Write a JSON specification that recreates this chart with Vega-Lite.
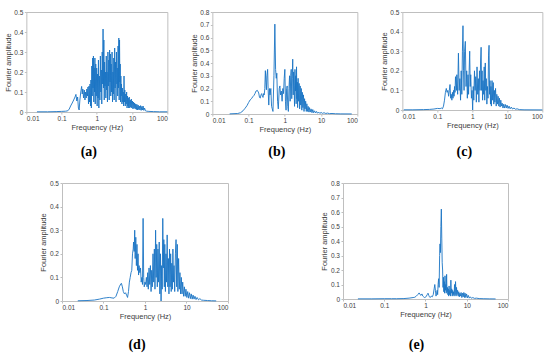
{
  "$schema": "https://vega.github.io/schema/vega-lite/v6.json",
  "padding": {"left": 3, "top": 8, "right": 0, "bottom": 0},
  "background": "white",
  "config": {
    "view": {"stroke": "#bfbfbf", "strokeWidth": 1},
    "axis": {"labelFont": "Liberation Sans", "labelFontSize": 6.5, "labelColor": "#404040", "titleFont": "Liberation Sans", "titleFontSize": 7.5, "titleFontWeight": "normal", "titleColor": "#404040", "grid": false, "domain": false, "ticks": true, "tickSize": 2, "tickColor": "#bfbfbf", "labelPadding": 1.5, "titlePadding": 1.5},
    "line": {"color": "#1a74c4", "strokeWidth": 0.9, "clip": true}
  },
  "datasets": {
    "a": [
      {"f":0.02,"v":0.001},{"f":0.04,"v":0.001},{"f":0.07,"v":0.002},{"f":0.1,"v":0.003},{"f":0.13,"v":0.004},{"f":0.15,"v":0.006},{"f":0.165,"v":0.015},{"f":0.18,"v":0.03},{"f":0.2,"v":0.045},{"f":0.22,"v":0.06},{"f":0.24,"v":0.075},{"f":0.255,"v":0.088},{"f":0.27,"v":0.055},{"f":0.285,"v":0.075},{"f":0.3,"v":0.02},{"f":0.315,"v":0.01},{"f":0.33,"v":0.06},{"f":0.35,"v":0.1},{"f":0.37,"v":0.128},{"f":0.385,"v":0.09},{"f":0.4,"v":0.115},{"f":0.42,"v":0.07},{"f":0.44,"v":0.11},{"f":0.46,"v":0.06},{"f":0.48,"v":0.1},{"f":0.5,"v":0.07},{"f":0.52,"v":0.115},{"f":0.54,"v":0.08},{"f":0.56,"v":0.125},{"f":0.58,"v":0.04},{"f":0.6,"v":0.13},{"f":0.62,"v":0.05},{"f":0.64,"v":0.14},{"f":0.66,"v":0.03},{"f":0.68,"v":0.16},{"f":0.7,"v":0.02},{"f":0.72,"v":0.23},{"f":0.74,"v":0.08},{"f":0.76,"v":0.27},{"f":0.78,"v":0.12},{"f":0.8,"v":0.28},{"f":0.82,"v":0.05},{"f":0.84,"v":0.22},{"f":0.86,"v":0.1},{"f":0.88,"v":0.27},{"f":0.9,"v":0.04},{"f":0.93,"v":0.24},{"f":0.96,"v":0.08},{"f":0.99,"v":0.22},{"f":1.02,"v":0.03},{"f":1.05,"v":0.19},{"f":1.08,"v":0.07},{"f":1.11,"v":0.26},{"f":1.14,"v":0.02},{"f":1.18,"v":0.18},{"f":1.22,"v":0.06},{"f":1.26,"v":0.28},{"f":1.3,"v":0.1},{"f":1.34,"v":0.21},{"f":1.38,"v":0.04},{"f":1.42,"v":0.3},{"f":1.46,"v":0.14},{"f":1.5,"v":0.415},{"f":1.54,"v":0.12},{"f":1.58,"v":0.36},{"f":1.62,"v":0.06},{"f":1.66,"v":0.25},{"f":1.7,"v":0.13},{"f":1.75,"v":0.2},{"f":1.8,"v":0.07},{"f":1.85,"v":0.28},{"f":1.9,"v":0.11},{"f":1.95,"v":0.2},{"f":2.0,"v":0.05},{"f":2.06,"v":0.3},{"f":2.12,"v":0.13},{"f":2.18,"v":0.26},{"f":2.24,"v":0.06},{"f":2.3,"v":0.31},{"f":2.36,"v":0.15},{"f":2.42,"v":0.29},{"f":2.48,"v":0.08},{"f":2.55,"v":0.24},{"f":2.62,"v":0.1},{"f":2.7,"v":0.3},{"f":2.78,"v":0.05},{"f":2.86,"v":0.2},{"f":2.94,"v":0.09},{"f":3.02,"v":0.27},{"f":3.1,"v":0.06},{"f":3.2,"v":0.32},{"f":3.3,"v":0.12},{"f":3.4,"v":0.25},{"f":3.5,"v":0.05},{"f":3.6,"v":0.3},{"f":3.7,"v":0.14},{"f":3.8,"v":0.22},{"f":3.9,"v":0.08},{"f":4.0,"v":0.33},{"f":4.1,"v":0.12},{"f":4.2,"v":0.37},{"f":4.3,"v":0.06},{"f":4.4,"v":0.36},{"f":4.5,"v":0.15},{"f":4.6,"v":0.24},{"f":4.7,"v":0.05},{"f":4.8,"v":0.18},{"f":4.9,"v":0.08},{"f":5.0,"v":0.14},{"f":5.15,"v":0.04},{"f":5.3,"v":0.12},{"f":5.45,"v":0.05},{"f":5.6,"v":0.1},{"f":5.75,"v":0.03},{"f":5.9,"v":0.18},{"f":6.05,"v":0.05},{"f":6.2,"v":0.11},{"f":6.4,"v":0.03},{"f":6.6,"v":0.09},{"f":6.8,"v":0.04},{"f":7.0,"v":0.1},{"f":7.2,"v":0.02},{"f":7.4,"v":0.08},{"f":7.6,"v":0.03},{"f":7.8,"v":0.07},{"f":8.0,"v":0.02},{"f":8.3,"v":0.075},{"f":8.6,"v":0.02},{"f":8.9,"v":0.06},{"f":9.2,"v":0.025},{"f":9.5,"v":0.065},{"f":9.8,"v":0.02},{"f":10.2,"v":0.055},{"f":10.6,"v":0.015},{"f":11.0,"v":0.05},{"f":11.4,"v":0.02},{"f":11.8,"v":0.045},{"f":12.2,"v":0.015},{"f":12.7,"v":0.04},{"f":13.2,"v":0.012},{"f":13.7,"v":0.038},{"f":14.2,"v":0.01},{"f":14.8,"v":0.035},{"f":15.4,"v":0.012},{"f":16.0,"v":0.03},{"f":16.7,"v":0.01},{"f":17.4,"v":0.032},{"f":18.1,"v":0.008},{"f":18.9,"v":0.028},{"f":19.7,"v":0.01},{"f":20.5,"v":0.03},{"f":21.5,"v":0.008},{"f":22.5,"v":0.02},{"f":24,"v":0.006},{"f":26,"v":0.004},{"f":30,"v":0.003},{"f":40,"v":0.002},{"f":60,"v":0.001},{"f":100,"v":0.001}
    ],
    "b": [
      {"f":0.03,"v":0.001},{"f":0.05,"v":0.004},{"f":0.06,"v":0.01},{"f":0.07,"v":0.025},{"f":0.08,"v":0.045},{"f":0.09,"v":0.065},{"f":0.1,"v":0.09},{"f":0.11,"v":0.11},{"f":0.12,"v":0.12},{"f":0.13,"v":0.135},{"f":0.14,"v":0.145},{"f":0.15,"v":0.16},{"f":0.16,"v":0.18},{"f":0.175,"v":0.185},{"f":0.19,"v":0.165},{"f":0.2,"v":0.13},{"f":0.21,"v":0.125},{"f":0.22,"v":0.15},{"f":0.23,"v":0.16},{"f":0.24,"v":0.14},{"f":0.25,"v":0.13},{"f":0.26,"v":0.16},{"f":0.27,"v":0.15},{"f":0.28,"v":0.2},{"f":0.29,"v":0.34},{"f":0.3,"v":0.25},{"f":0.31,"v":0.19},{"f":0.32,"v":0.3},{"f":0.335,"v":0.35},{"f":0.345,"v":0.2},{"f":0.36,"v":0.07},{"f":0.375,"v":0.2},{"f":0.39,"v":0.15},{"f":0.41,"v":0.2},{"f":0.43,"v":0.06},{"f":0.45,"v":0.04},{"f":0.47,"v":0.02},{"f":0.5,"v":0.3},{"f":0.53,"v":0.705},{"f":0.555,"v":0.35},{"f":0.58,"v":0.28},{"f":0.6,"v":0.32},{"f":0.63,"v":0.1},{"f":0.66,"v":0.04},{"f":0.7,"v":0.2},{"f":0.73,"v":0.22},{"f":0.76,"v":0.15},{"f":0.8,"v":0.18},{"f":0.84,"v":0.1},{"f":0.88,"v":0.2},{"f":0.92,"v":0.16},{"f":0.96,"v":0.28},{"f":1.0,"v":0.35},{"f":1.04,"v":0.1},{"f":1.08,"v":0.03},{"f":1.12,"v":0.2},{"f":1.16,"v":0.22},{"f":1.2,"v":0.06},{"f":1.25,"v":0.02},{"f":1.3,"v":0.2},{"f":1.35,"v":0.3},{"f":1.4,"v":0.1},{"f":1.45,"v":0.3},{"f":1.5,"v":0.35},{"f":1.55,"v":0.12},{"f":1.6,"v":0.28},{"f":1.65,"v":0.43},{"f":1.7,"v":0.15},{"f":1.75,"v":0.33},{"f":1.8,"v":0.22},{"f":1.85,"v":0.06},{"f":1.9,"v":0.35},{"f":1.95,"v":0.18},{"f":2.0,"v":0.3},{"f":2.05,"v":0.08},{"f":2.1,"v":0.37},{"f":2.15,"v":0.12},{"f":2.2,"v":0.25},{"f":2.25,"v":0.05},{"f":2.32,"v":0.28},{"f":2.4,"v":0.1},{"f":2.48,"v":0.24},{"f":2.56,"v":0.04},{"f":2.65,"v":0.22},{"f":2.74,"v":0.07},{"f":2.84,"v":0.2},{"f":2.94,"v":0.03},{"f":3.04,"v":0.17},{"f":3.15,"v":0.05},{"f":3.26,"v":0.15},{"f":3.38,"v":0.02},{"f":3.5,"v":0.12},{"f":3.62,"v":0.04},{"f":3.75,"v":0.1},{"f":3.9,"v":0.02},{"f":4.05,"v":0.08},{"f":4.2,"v":0.02},{"f":4.4,"v":0.06},{"f":4.6,"v":0.015},{"f":4.8,"v":0.05},{"f":5.0,"v":0.015},{"f":5.3,"v":0.04},{"f":5.6,"v":0.01},{"f":5.9,"v":0.035},{"f":6.2,"v":0.01},{"f":6.6,"v":0.025},{"f":7.0,"v":0.008},{"f":7.5,"v":0.02},{"f":8.0,"v":0.006},{"f":8.6,"v":0.015},{"f":9.2,"v":0.005},{"f":10,"v":0.012},{"f":11,"v":0.005},{"f":12,"v":0.01},{"f":13.5,"v":0.004},{"f":15,"v":0.007},{"f":17,"v":0.003},{"f":20,"v":0.004},{"f":25,"v":0.002},{"f":35,"v":0.001},{"f":70,"v":0.0005}
    ],
    "c": [
      {"f":0.011,"v":0.001},{"f":0.02,"v":0.001},{"f":0.04,"v":0.002},{"f":0.06,"v":0.003},{"f":0.08,"v":0.005},{"f":0.1,"v":0.008},{"f":0.12,"v":0.007},{"f":0.13,"v":0.01},{"f":0.14,"v":0.006},{"f":0.15,"v":0.02},{"f":0.16,"v":0.05},{"f":0.17,"v":0.09},{"f":0.18,"v":0.11},{"f":0.19,"v":0.09},{"f":0.2,"v":0.1},{"f":0.21,"v":0.07},{"f":0.22,"v":0.1},{"f":0.23,"v":0.13},{"f":0.24,"v":0.06},{"f":0.25,"v":0.08},{"f":0.26,"v":0.05},{"f":0.27,"v":0.09},{"f":0.28,"v":0.06},{"f":0.29,"v":0.1},{"f":0.3,"v":0.07},{"f":0.31,"v":0.12},{"f":0.32,"v":0.09},{"f":0.33,"v":0.17},{"f":0.35,"v":0.1},{"f":0.36,"v":0.18},{"f":0.38,"v":0.08},{"f":0.4,"v":0.29},{"f":0.42,"v":0.1},{"f":0.44,"v":0.16},{"f":0.46,"v":0.05},{"f":0.48,"v":0.2},{"f":0.5,"v":0.08},{"f":0.52,"v":0.3},{"f":0.54,"v":0.43},{"f":0.56,"v":0.2},{"f":0.58,"v":0.1},{"f":0.6,"v":0.3},{"f":0.63,"v":0.35},{"f":0.66,"v":0.12},{"f":0.69,"v":0.2},{"f":0.72,"v":0.06},{"f":0.75,"v":0.18},{"f":0.78,"v":0.08},{"f":0.81,"v":0.2},{"f":0.84,"v":0.3},{"f":0.87,"v":0.12},{"f":0.9,"v":0.18},{"f":0.94,"v":0.06},{"f":0.98,"v":0.1},{"f":1.02,"v":0.0},{"f":1.06,"v":0.12},{"f":1.1,"v":0.05},{"f":1.15,"v":0.2},{"f":1.2,"v":0.1},{"f":1.25,"v":0.17},{"f":1.3,"v":0.04},{"f":1.36,"v":0.22},{"f":1.42,"v":0.08},{"f":1.48,"v":0.16},{"f":1.54,"v":0.04},{"f":1.6,"v":0.2},{"f":1.66,"v":0.1},{"f":1.72,"v":0.25},{"f":1.78,"v":0.32},{"f":1.84,"v":0.1},{"f":1.9,"v":0.2},{"f":1.96,"v":0.05},{"f":2.02,"v":0.15},{"f":2.1,"v":0.08},{"f":2.18,"v":0.22},{"f":2.26,"v":0.05},{"f":2.34,"v":0.24},{"f":2.42,"v":0.1},{"f":2.5,"v":0.16},{"f":2.6,"v":0.03},{"f":2.7,"v":0.12},{"f":2.8,"v":0.06},{"f":2.9,"v":0.28},{"f":3.0,"v":0.33},{"f":3.1,"v":0.08},{"f":3.2,"v":0.15},{"f":3.3,"v":0.03},{"f":3.4,"v":0.12},{"f":3.5,"v":0.02},{"f":3.65,"v":0.15},{"f":3.8,"v":0.05},{"f":3.95,"v":0.14},{"f":4.1,"v":0.03},{"f":4.25,"v":0.1},{"f":4.4,"v":0.04},{"f":4.6,"v":0.11},{"f":4.8,"v":0.02},{"f":5.0,"v":0.08},{"f":5.2,"v":0.03},{"f":5.45,"v":0.07},{"f":5.7,"v":0.02},{"f":5.95,"v":0.06},{"f":6.2,"v":0.015},{"f":6.5,"v":0.05},{"f":6.8,"v":0.02},{"f":7.1,"v":0.035},{"f":7.5,"v":0.01},{"f":7.9,"v":0.03},{"f":8.3,"v":0.01},{"f":8.8,"v":0.028},{"f":9.3,"v":0.01},{"f":9.8,"v":0.025},{"f":10.5,"v":0.008},{"f":11.2,"v":0.02},{"f":12,"v":0.006},{"f":13,"v":0.015},{"f":14,"v":0.005},{"f":15.5,"v":0.01},{"f":17,"v":0.004},{"f":19,"v":0.006},{"f":22,"v":0.002},{"f":30,"v":0.001},{"f":100,"v":0.0005}
    ],
    "d": [
      {"f":0.024,"v":0.001},{"f":0.04,"v":0.002},{"f":0.06,"v":0.004},{"f":0.08,"v":0.008},{"f":0.1,"v":0.012},{"f":0.12,"v":0.014},{"f":0.14,"v":0.015},{"f":0.16,"v":0.013},{"f":0.18,"v":0.012},{"f":0.2,"v":0.02},{"f":0.22,"v":0.04},{"f":0.24,"v":0.06},{"f":0.26,"v":0.072},{"f":0.27,"v":0.075},{"f":0.285,"v":0.06},{"f":0.3,"v":0.04},{"f":0.32,"v":0.03},{"f":0.34,"v":0.035},{"f":0.36,"v":0.025},{"f":0.38,"v":0.015},{"f":0.4,"v":0.04},{"f":0.42,"v":0.08},{"f":0.44,"v":0.1},{"f":0.46,"v":0.12},{"f":0.48,"v":0.13},{"f":0.5,"v":0.2},{"f":0.52,"v":0.22},{"f":0.53,"v":0.25},{"f":0.55,"v":0.21},{"f":0.565,"v":0.3},{"f":0.58,"v":0.18},{"f":0.6,"v":0.27},{"f":0.62,"v":0.15},{"f":0.64,"v":0.24},{"f":0.66,"v":0.13},{"f":0.68,"v":0.2},{"f":0.7,"v":0.11},{"f":0.72,"v":0.15},{"f":0.75,"v":0.12},{"f":0.78,"v":0.14},{"f":0.81,"v":0.08},{"f":0.84,"v":0.1},{"f":0.87,"v":0.07},{"f":0.9,"v":0.35},{"f":0.93,"v":0.1},{"f":0.96,"v":0.06},{"f":1.0,"v":0.08},{"f":1.04,"v":0.07},{"f":1.08,"v":0.1},{"f":1.12,"v":0.06},{"f":1.16,"v":0.12},{"f":1.2,"v":0.05},{"f":1.25,"v":0.14},{"f":1.3,"v":0.07},{"f":1.35,"v":0.15},{"f":1.4,"v":0.04},{"f":1.45,"v":0.13},{"f":1.5,"v":0.06},{"f":1.56,"v":0.2},{"f":1.62,"v":0.08},{"f":1.68,"v":0.22},{"f":1.74,"v":0.05},{"f":1.8,"v":0.3},{"f":1.86,"v":0.1},{"f":1.92,"v":0.24},{"f":1.98,"v":0.06},{"f":2.05,"v":0.22},{"f":2.12,"v":0.08},{"f":2.2,"v":0.25},{"f":2.28,"v":0.03},{"f":2.36,"v":0.2},{"f":2.44,"v":0.0},{"f":2.52,"v":0.15},{"f":2.6,"v":0.05},{"f":2.68,"v":0.35},{"f":2.76,"v":0.14},{"f":2.84,"v":0.26},{"f":2.92,"v":0.06},{"f":3.0,"v":0.24},{"f":3.1,"v":0.04},{"f":3.2,"v":0.2},{"f":3.3,"v":0.08},{"f":3.42,"v":0.28},{"f":3.54,"v":0.06},{"f":3.66,"v":0.18},{"f":3.78,"v":0.03},{"f":3.9,"v":0.22},{"f":4.02,"v":0.06},{"f":4.15,"v":0.2},{"f":4.28,"v":0.04},{"f":4.42,"v":0.16},{"f":4.56,"v":0.05},{"f":4.7,"v":0.22},{"f":4.85,"v":0.08},{"f":5.0,"v":0.15},{"f":5.2,"v":0.04},{"f":5.4,"v":0.2},{"f":5.6,"v":0.26},{"f":5.8,"v":0.06},{"f":6.0,"v":0.24},{"f":6.2,"v":0.04},{"f":6.45,"v":0.18},{"f":6.7,"v":0.05},{"f":6.95,"v":0.12},{"f":7.2,"v":0.03},{"f":7.5,"v":0.1},{"f":7.8,"v":0.03},{"f":8.1,"v":0.08},{"f":8.5,"v":0.02},{"f":8.9,"v":0.06},{"f":9.3,"v":0.02},{"f":9.7,"v":0.05},{"f":10.2,"v":0.015},{"f":10.7,"v":0.04},{"f":11.2,"v":0.012},{"f":11.8,"v":0.035},{"f":12.4,"v":0.01},{"f":13,"v":0.03},{"f":13.7,"v":0.008},{"f":14.4,"v":0.025},{"f":15.2,"v":0.008},{"f":16,"v":0.02},{"f":17,"v":0.006},{"f":18,"v":0.015},{"f":19.5,"v":0.005},{"f":21,"v":0.01},{"f":23,"v":0.004},{"f":26,"v":0.003},{"f":32,"v":0.002},{"f":40,"v":0.001},{"f":52,"v":0.0005}
    ],
    "e": [
      {"f":0.023,"v":0.001},{"f":0.05,"v":0.001},{"f":0.1,"v":0.002},{"f":0.15,"v":0.002},{"f":0.2,"v":0.002},{"f":0.3,"v":0.003},{"f":0.4,"v":0.006},{"f":0.5,"v":0.01},{"f":0.55,"v":0.012},{"f":0.6,"v":0.02},{"f":0.65,"v":0.03},{"f":0.7,"v":0.042},{"f":0.74,"v":0.03},{"f":0.78,"v":0.025},{"f":0.82,"v":0.035},{"f":0.86,"v":0.02},{"f":0.9,"v":0.015},{"f":0.95,"v":0.01},{"f":1.0,"v":0.012},{"f":1.05,"v":0.02},{"f":1.1,"v":0.03},{"f":1.15,"v":0.04},{"f":1.2,"v":0.025},{"f":1.25,"v":0.015},{"f":1.3,"v":0.01},{"f":1.38,"v":0.02},{"f":1.46,"v":0.015},{"f":1.54,"v":0.03},{"f":1.62,"v":0.07},{"f":1.68,"v":0.1},{"f":1.74,"v":0.06},{"f":1.8,"v":0.02},{"f":1.86,"v":0.04},{"f":1.92,"v":0.06},{"f":1.97,"v":0.03},{"f":2.02,"v":0.1},{"f":2.08,"v":0.14},{"f":2.14,"v":0.08},{"f":2.2,"v":0.3},{"f":2.25,"v":0.38},{"f":2.3,"v":0.32},{"f":2.36,"v":0.5},{"f":2.42,"v":0.62},{"f":2.48,"v":0.42},{"f":2.54,"v":0.25},{"f":2.6,"v":0.2},{"f":2.66,"v":0.08},{"f":2.72,"v":0.15},{"f":2.78,"v":0.05},{"f":2.84,"v":0.12},{"f":2.9,"v":0.04},{"f":2.97,"v":0.16},{"f":3.04,"v":0.06},{"f":3.11,"v":0.1},{"f":3.18,"v":0.04},{"f":3.25,"v":0.17},{"f":3.32,"v":0.05},{"f":3.4,"v":0.08},{"f":3.48,"v":0.03},{"f":3.56,"v":0.07},{"f":3.64,"v":0.02},{"f":3.73,"v":0.09},{"f":3.82,"v":0.03},{"f":3.92,"v":0.06},{"f":4.02,"v":0.02},{"f":4.12,"v":0.13},{"f":4.22,"v":0.04},{"f":4.33,"v":0.07},{"f":4.44,"v":0.02},{"f":4.56,"v":0.06},{"f":4.68,"v":0.03},{"f":4.8,"v":0.05},{"f":4.93,"v":0.02},{"f":5.06,"v":0.1},{"f":5.2,"v":0.03},{"f":5.35,"v":0.12},{"f":5.5,"v":0.02},{"f":5.65,"v":0.08},{"f":5.8,"v":0.03},{"f":6.0,"v":0.06},{"f":6.2,"v":0.02},{"f":6.4,"v":0.05},{"f":6.6,"v":0.015},{"f":6.8,"v":0.04},{"f":7.0,"v":0.02},{"f":7.3,"v":0.045},{"f":7.6,"v":0.01},{"f":7.9,"v":0.04},{"f":8.2,"v":0.015},{"f":8.5,"v":0.045},{"f":8.8,"v":0.01},{"f":9.1,"v":0.04},{"f":9.5,"v":0.01},{"f":9.9,"v":0.035},{"f":10.4,"v":0.008},{"f":10.9,"v":0.025},{"f":11.5,"v":0.006},{"f":12.2,"v":0.015},{"f":13,"v":0.005},{"f":14,"v":0.01},{"f":15.5,"v":0.004},{"f":17,"v":0.006},{"f":20,"v":0.003},{"f":25,"v":0.002},{"f":35,"v":0.001},{"f":50,"v":0.0005}
    ]
  },
  "vconcat": [
    {
      "hconcat": [
        {
          "width": 141, "height": 100,
          "data": {"name": "a"},
          "mark": {"type": "line"},
          "encoding": {
            "x": {"field": "f", "type": "quantitative", "scale": {"type": "log", "domain": [0.01, 100], "nice": false}, "axis": {"values": [0.01, 0.1, 1, 10, 100], "format": "~g", "title": "Frequency (Hz)"}},
            "y": {"field": "v", "type": "quantitative", "scale": {"domain": [0, 0.5], "nice": false}, "axis": {"values": [0, 0.1, 0.2, 0.3, 0.4, 0.5], "format": "~g", "title": "Fourier amplitude"}}
          },
          "title": {"text": "(a)", "orient": "bottom", "font": "Liberation Serif", "fontSize": 14, "fontWeight": "bold", "color": "#000000", "frame": "group", "anchor": "middle", "dx": -8, "offset": 14}
        },
        {
          "width": 145, "height": 102,
          "data": {"name": "b"},
          "mark": {"type": "line"},
          "encoding": {
            "x": {"field": "f", "type": "quantitative", "scale": {"type": "log", "domain": [0.01, 100], "nice": false}, "axis": {"values": [0.01, 0.1, 1, 10, 100], "format": "~g", "title": "Frequency (Hz)"}},
            "y": {"field": "v", "type": "quantitative", "scale": {"domain": [0, 0.8], "nice": false}, "axis": {"values": [0, 0.1, 0.2, 0.3, 0.4, 0.5, 0.6, 0.7, 0.8], "format": "~g", "title": "Fourier amplitude"}}
          },
          "title": {"text": "(b)", "orient": "bottom", "font": "Liberation Serif", "fontSize": 14, "fontWeight": "bold", "color": "#000000", "frame": "group", "anchor": "middle", "dx": -8, "offset": 12}
        },
        {
          "width": 140, "height": 98,
          "data": {"name": "c"},
          "mark": {"type": "line"},
          "encoding": {
            "x": {"field": "f", "type": "quantitative", "scale": {"type": "log", "domain": [0.01, 100], "nice": false}, "axis": {"values": [0.01, 0.1, 1, 10, 100], "format": "~g", "title": "Frequency (Hz)"}},
            "y": {"field": "v", "type": "quantitative", "scale": {"domain": [0, 0.5], "nice": false}, "axis": {"values": [0, 0.1, 0.2, 0.3, 0.4, 0.5], "format": "~g", "title": "Fourier amplitude"}}
          },
          "title": {"text": "(c)", "orient": "bottom", "font": "Liberation Serif", "fontSize": 14, "fontWeight": "bold", "color": "#000000", "frame": "group", "anchor": "middle", "dx": -8, "offset": 16}
        }
      ],
      "bounds": "flush",
      "spacing": 45
    },
    {
      "hconcat": [
        {
          "width": 166, "height": 118,
          "data": {"name": "d"},
          "mark": {"type": "line"},
          "encoding": {
            "x": {"field": "f", "type": "quantitative", "scale": {"type": "log", "domain": [0.01, 100], "nice": false}, "axis": {"values": [0.01, 0.1, 1, 10, 100], "format": "~g", "title": "Frequency (Hz)"}},
            "y": {"field": "v", "type": "quantitative", "scale": {"domain": [0, 0.5], "nice": false}, "axis": {"values": [0, 0.1, 0.2, 0.3, 0.4, 0.5], "format": "~g", "title": "Fourier amplitude"}}
          },
          "title": {"text": "(d)", "orient": "bottom", "font": "Liberation Serif", "fontSize": 14, "fontWeight": "bold", "color": "#000000", "frame": "group", "anchor": "middle", "dx": -8, "offset": 18}
        },
        {
          "width": 165, "height": 116,
          "data": {"name": "e"},
          "mark": {"type": "line"},
          "encoding": {
            "x": {"field": "f", "type": "quantitative", "scale": {"type": "log", "domain": [0.01, 100], "nice": false}, "axis": {"values": [0.01, 0.1, 1, 10, 100], "format": "~g", "title": "Frequency (Hz)"}},
            "y": {"field": "v", "type": "quantitative", "scale": {"domain": [0, 0.8], "nice": false}, "axis": {"values": [0, 0.1, 0.2, 0.3, 0.4, 0.5, 0.6, 0.7, 0.8], "format": "~g", "title": "Fourier amplitude"}}
          },
          "title": {"text": "(e)", "orient": "bottom", "font": "Liberation Serif", "fontSize": 14, "fontWeight": "bold", "color": "#000000", "frame": "group", "anchor": "middle", "dx": -9, "offset": 20}
        }
      ],
      "bounds": "flush",
      "spacing": 115
    }
  ],
  "center": true,
  "spacing": 19
}
